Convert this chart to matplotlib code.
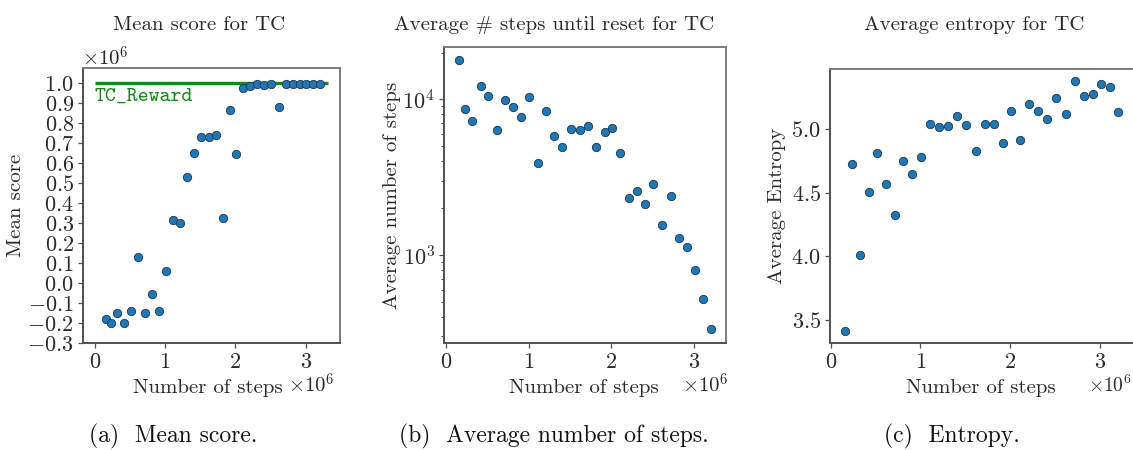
import matplotlib
matplotlib.use("Agg")
import matplotlib.pyplot as plt
from matplotlib.ticker import FuncFormatter, MultipleLocator, LogLocator, NullFormatter

plt.rcParams['font.family'] = ['cmr10']
plt.rcParams['mathtext.fontset'] = 'cm'
plt.rcParams['axes.formatter.use_mathtext'] = True
plt.rcParams['axes.unicode_minus'] = True

# ---- data (x in units of 1e6 steps) ----
steps_m = [0.16, 0.23, 0.32, 0.42, 0.51, 0.62, 0.71, 0.81, 0.91, 1.01,
           1.11, 1.21, 1.31, 1.41, 1.51, 1.62, 1.72, 1.82, 1.92, 2.01,
           2.11, 2.21, 2.31, 2.41, 2.51, 2.62, 2.72, 2.82, 2.92, 3.01,
           3.11, 3.21]
mean_score_m = [-0.18, -0.20, -0.152, -0.20, -0.142, 0.130, -0.149, -0.056, -0.140, 0.061,
                0.314, 0.300, 0.533, 0.653, 0.731, 0.731, 0.743, 0.328, 0.866, 0.645,
                0.977, 0.987, 0.995, 0.992, 0.995, 0.880, 0.997, 0.997, 0.997, 0.998,
                0.995, 0.998]
avg_steps = [17800, 8670, 7290, 12180, 10450, 6380, 9900, 8970, 7660, 10400,
             3900, 8410, 5780, 4960, 6490, 6380, 6710, 4960, 6200, 6550,
             4500, 2310, 2560, 2130, 2860, 1550, 2390, 1290, 1130, 801,
             519, 333]
avg_entropy = [3.416, 4.727, 4.011, 4.510, 4.811, 4.570, 4.326, 4.753, 4.646, 4.780,
               5.045, 5.021, 5.026, 5.102, 5.034, 4.830, 5.039, 5.039, 4.892, 5.142,
               4.916, 5.199, 5.142, 5.079, 5.244, 5.118, 5.380, 5.265, 5.278, 5.357,
               5.330, 5.134]
reward_m = 1.0
reward_span = [0.0, 3.32]
reward_label = "TC_Reward"

titles = ["Mean score for TC", "Average # steps until reset for TC", "Average entropy for TC"]
ylabels = ["Mean score", "Average number of steps", "Average Entropy"]
captions = ["(a)  Mean score.", "(b)  Average number of steps.", "(c)  Entropy."]
xlabel = "Number of steps"

W, H = 1133, 450
fig = plt.figure(figsize=(W / 100, H / 100), dpi=100)

def px_axes(l, r, t, b):
    return fig.add_axes([l / W, 1 - b / H, (r - l) / W, (b - t) / H])

FS = 15
TFS = 16
TXT = '#2a2a2a'
dot_color = '#1f77b4'
sc_kw = dict(s=36, color=dot_color, edgecolors='#1a3550', linewidths=0.6, zorder=3)

def style(ax):
    for s in ['left', 'bottom']:
        ax.spines[s].set_color('#505050')
        ax.spines[s].set_linewidth(1.4)
    for s in ['top', 'right']:
        ax.spines[s].set_color('#7a7a7a')
        ax.spines[s].set_linewidth(1.4)
    ax.tick_params(axis='both', which='major', direction='out', length=3.5, width=0.9,
                   color='#505050', labelsize=TFS, pad=3, labelcolor=TXT)
    ax.tick_params(axis='both', which='minor', direction='out', length=2, width=0.7, color='#505050')

mfmt1 = FuncFormatter(lambda v, p: r'$%.1f$' % v if abs(v) > 1e-9 else r'$0.0$')
ifmt = FuncFormatter(lambda v, p: r'$%d$' % round(v))

# ---- (a) ----
ax1 = px_axes(83, 340, 68, 343)
ax1.hlines(reward_m, reward_span[0], reward_span[1], color='#138a13', lw=2.4, zorder=2)
ax1.scatter(steps_m, mean_score_m, **sc_kw)
ax1.text(0.0, 0.935, reward_label, family='cmtt10', fontsize=15, color='#138a13',
         ha='left', va='center')
ax1.set_xlim(-0.17, 3.49)
ax1.set_ylim(-0.3, 1.077)
ax1.yaxis.set_major_locator(MultipleLocator(0.1))
ax1.yaxis.set_major_formatter(mfmt1)
ax1.xaxis.set_major_locator(MultipleLocator(1))
ax1.xaxis.set_major_formatter(ifmt)
style(ax1)
ax1.set_ylabel(ylabels[0], fontsize=FS, color=TXT)
ax1.yaxis.set_label_coords(-58 / 257, 0.5)
fig.text(133 / W, 1 - 388 / H, xlabel, fontsize=FS, ha='left', va='center', color=TXT)
fig.text(288 / W, 1 - 385 / H, r'$\times10^6$', fontsize=FS, ha='left', va='center', color=TXT)
fig.text(82 / W, 1 - 58 / H, r'$\times10^6$', fontsize=FS, ha='left', va='center', color=TXT)

# ---- (b) ----
ax2 = px_axes(444, 726, 47, 343)
ax2.scatter(steps_m, avg_steps, **sc_kw)
ax2.set_yscale('log')
ax2.set_xlim(-0.025, 3.39)
ax2.set_ylim(272, 21700)
ax2.yaxis.set_major_locator(LogLocator(base=10, numticks=10))
ax2.yaxis.set_minor_locator(LogLocator(base=10, subs=range(2, 10), numticks=10))
ax2.yaxis.set_minor_formatter(NullFormatter())
ax2.xaxis.set_major_locator(MultipleLocator(1))
ax2.xaxis.set_major_formatter(ifmt)
style(ax2)
ax2.set_ylabel(ylabels[1], fontsize=FS, color=TXT)
ax2.yaxis.set_label_coords(-43 / 282, 0.5)
fig.text(584 / W, 1 - 388 / H, xlabel, fontsize=FS, ha='center', va='center', color=TXT)
fig.text(682 / W, 1 - 385 / H, r'$\times10^6$', fontsize=FS, ha='left', va='center', color=TXT)

# ---- (c) ----
ax3 = px_axes(830, 1140, 69, 343)
ax3.scatter(steps_m, avg_entropy, **sc_kw)
ax3.set_xlim(-0.01, 3.45)
ax3.set_ylim(3.319, 5.474)
ax3.yaxis.set_major_locator(MultipleLocator(0.5))
ax3.yaxis.set_major_formatter(mfmt1)
ax3.xaxis.set_major_locator(MultipleLocator(1))
ax3.xaxis.set_major_formatter(ifmt)
style(ax3)
ax3.set_ylabel(ylabels[2], fontsize=FS, color=TXT)
ax3.yaxis.set_label_coords(-44 / 310, 0.5)
fig.text(981 / W, 1 - 388 / H, xlabel, fontsize=FS, ha='center', va='center', color=TXT)
fig.text(1088 / W, 1 - 385 / H, r'$\times10^6$', fontsize=14, ha='left', va='center', color=TXT)

# titles and captions
for cx, t in zip([199, 554, 974], titles):
    fig.text(cx / W, 1 - 25 / H, t, fontsize=FS, ha='center', va='center', color=TXT)
for cx, c in zip([173, 554, 952], captions):
    fig.text(cx / W, 1 - 436 / H, c, fontsize=17, ha='center', va='center', color='#111111')

fig.savefig('out.png', dpi=100)
